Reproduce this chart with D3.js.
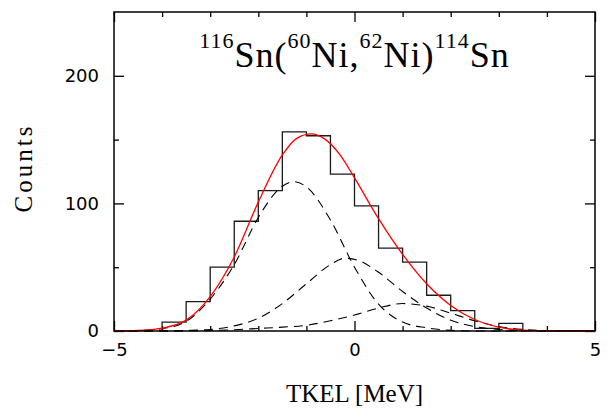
<!DOCTYPE html>
<html>
<head>
<meta charset="utf-8">
<script src="https://cdn.jsdelivr.net/npm/d3@7"></script>
<style>
  body { margin: 0; background: #fff; }
  svg { display: block; }
  .tick text { font-family: "DejaVu Sans", sans-serif; font-size: 18px; fill: #000; }
</style>
</head>
<body>
<div id="tkel-chart"></div>
<script>
// histogram: lower edge of each 0.5 MeV bin and the counts in it
var binStart = [-4.0, -3.5, -3.0, -2.5, -2.0, -1.5, -1.0, -0.5, 0.0, 0.5, 1.0, 1.5, 2.0, 2.5, 3.0];
var binEnd = 3.5;
var binCounts = [7, 23, 50, 86, 110, 156, 153, 123, 98, 65, 54, 28, 16, 2, 6];

// total fit (red)
var totalX = [-5, -4.5, -4, -3.5, -3, -2.5, -2, -1.5, -1.2, -0.9, -0.6, -0.3, 0, 0.5, 1, 1.5, 2, 2.5, 3, 3.5, 4, 5];
var totalY = [0, 0.4, 2.2, 8.5, 27, 58, 101, 138, 151, 154.5, 150, 138, 120, 88, 60, 37, 20, 9, 3, 0.7, 0.1, 0];

// the three dashed components
var comp1X = [-5, -4.5, -4, -3.5, -3, -2.5, -2, -1.5, -1.27, -1, -0.5, 0, 0.5, 1, 1.5, 2, 2.5, 5];
var comp1Y = [0, 0.3, 1.8, 7.5, 25, 52, 89, 113.5, 117, 113, 87, 50, 21, 7, 2.5, 0.5, 0, 0];
var comp2X = [-5, -4, -3.5, -3, -2.5, -2, -1.5, -1, -0.5, -0.2, 0.1, 0.5, 1, 1.5, 2, 2.5, 3, 3.5, 4, 5];
var comp2Y = [0, 0.1, 0.4, 1.2, 4, 10, 21.5, 37, 52, 57, 55, 46, 31, 18, 8.5, 3.5, 1.2, 0.3, 0.05, 0];
var comp3X = [-5, -4, -3, -2.5, -2, -1.5, -1, -0.5, 0, 0.5, 1, 1.5, 2, 2.5, 3, 3.5, 4, 5];
var comp3Y = [0, 0.05, 0.4, 1, 2, 3, 4.5, 8, 12.5, 18, 21.5, 19.5, 14, 8, 3.5, 1.2, 0.3, 0];

// axis ticks
var xMajor = [-5, 0, 5];
var xMinor = [-4, -3, -2, -1, 1, 2, 3, 4];
var yMajor = [0, 100, 200];
var yMinor = [50, 150];

var margin = { top: 12, right: 19, bottom: 77, left: 114 },
    width = 614 - margin.left - margin.right,
    height = 408 - margin.top - margin.bottom;

var xScale = d3.scaleLinear().domain([-5, 5]).range([0, width]);
var yScale = d3.scaleLinear().domain([0, 250]).range([height, 0]);

var svg = d3.select("#tkel-chart").append("svg")
    .attr("width", width + margin.left + margin.right)
    .attr("height", height + margin.top + margin.bottom)
    .append("g")
    .attr("transform", "translate(" + margin.left + "," + margin.top + ")");

// ticks point inwards on all four sides, labels only bottom and left
function drawTicks(axis, values, size, pos, withLabels, padding) {
    var g = svg.append("g")
        .attr("transform", pos)
        .call(axis.tickValues(values).tickSizeInner(size).tickSizeOuter(0)
            .tickPadding(padding || 3)
            .tickFormat(withLabels ? d3.format("") : ""));
    g.select(".domain").remove();
    g.selectAll(".tick line").attr("stroke", "#000").attr("stroke-width", 1.3);
    return g;
}

drawTicks(d3.axisBottom(xScale), xMajor, -10, "translate(0," + height + ")", true, 12);
drawTicks(d3.axisBottom(xScale), xMinor, -5, "translate(0," + height + ")", false);
drawTicks(d3.axisTop(xScale), xMajor, -10, "translate(0,0)", false);
drawTicks(d3.axisTop(xScale), xMinor, -5, "translate(0,0)", false);
drawTicks(d3.axisLeft(yScale), yMajor, -10, "translate(0,0)", true, 15);
drawTicks(d3.axisLeft(yScale), yMinor, -5, "translate(0,0)", false);
drawTicks(d3.axisRight(yScale), yMajor, -10, "translate(" + width + ",0)", false);
drawTicks(d3.axisRight(yScale), yMinor, -5, "translate(" + width + ",0)", false);

// histogram outline as a step line
var histPoints = [[binStart[0], 0]];
binStart.forEach(function(x0, i) {
    histPoints.push([x0, binCounts[i]]);
});
histPoints.push([binEnd, 0]);

var stepLine = d3.line()
    .x(function(d) { return xScale(d[0]); })
    .y(function(d) { return yScale(d[1]); })
    .curve(d3.curveStepAfter);

svg.append("path")
    .datum(histPoints)
    .attr("fill", "none")
    .attr("stroke", "#1a1a1a")
    .attr("stroke-width", 1.3)
    .attr("d", stepLine);

var smoothLine = d3.line()
    .x(function(d) { return xScale(d[0]); })
    .y(function(d) { return yScale(d[1]); })
    .curve(d3.curveMonotoneX);

function pairs(xs, ys) {
    return xs.map(function(x, i) { return [x, ys[i]]; });
}

[[comp1X, comp1Y], [comp2X, comp2Y], [comp3X, comp3Y]].forEach(function(c) {
    svg.append("path")
        .datum(pairs(c[0], c[1]))
        .attr("fill", "none")
        .attr("stroke", "#000")
        .attr("stroke-width", 1.1)
        .attr("stroke-dasharray", "9,6")
        .attr("d", smoothLine);
});

svg.append("path")
    .datum(pairs(totalX, totalY))
    .attr("fill", "none")
    .attr("stroke", "#ff0000")
    .attr("stroke-width", 1.3)
    .attr("d", smoothLine);

// frame
svg.append("rect")
    .attr("width", width)
    .attr("height", height)
    .attr("fill", "none")
    .attr("stroke", "#000")
    .attr("stroke-width", 1.5);

// reaction label
var title = svg.append("text")
    .attr("x", width / 2)
    .attr("y", 55)
    .attr("text-anchor", "middle")
    .style("font-family", "'Liberation Serif', serif")
    .style("font-size", "36px")
    .style("letter-spacing", "1px");

[["116", true], ["Sn(", false], ["60", true], ["Ni,", false], ["62", true], ["Ni)", false], ["114", true], ["Sn", false]]
    .forEach(function(part) {
        title.append("tspan")
            .attr("dy", part[1] ? -19 : 19)
            .style("font-size", part[1] ? "22px" : "36px")
            .text(part[0]);
    });
title.select("tspan").attr("dy", -19);

svg.append("text")
    .attr("x", xScale(0))
    .attr("y", 390)
    .attr("text-anchor", "middle")
    .style("font-family", "'Liberation Serif', serif")
    .style("font-size", "25px")
    .text("TKEL [MeV]");

svg.append("text")
    .attr("transform", "translate(-82," + 156 + ") rotate(-90)")
    .attr("text-anchor", "middle")
    .style("font-family", "'Liberation Serif', serif")
    .style("font-size", "25px")
    .style("letter-spacing", "3px")
    .text("Counts");
</script>
</body>
</html>
